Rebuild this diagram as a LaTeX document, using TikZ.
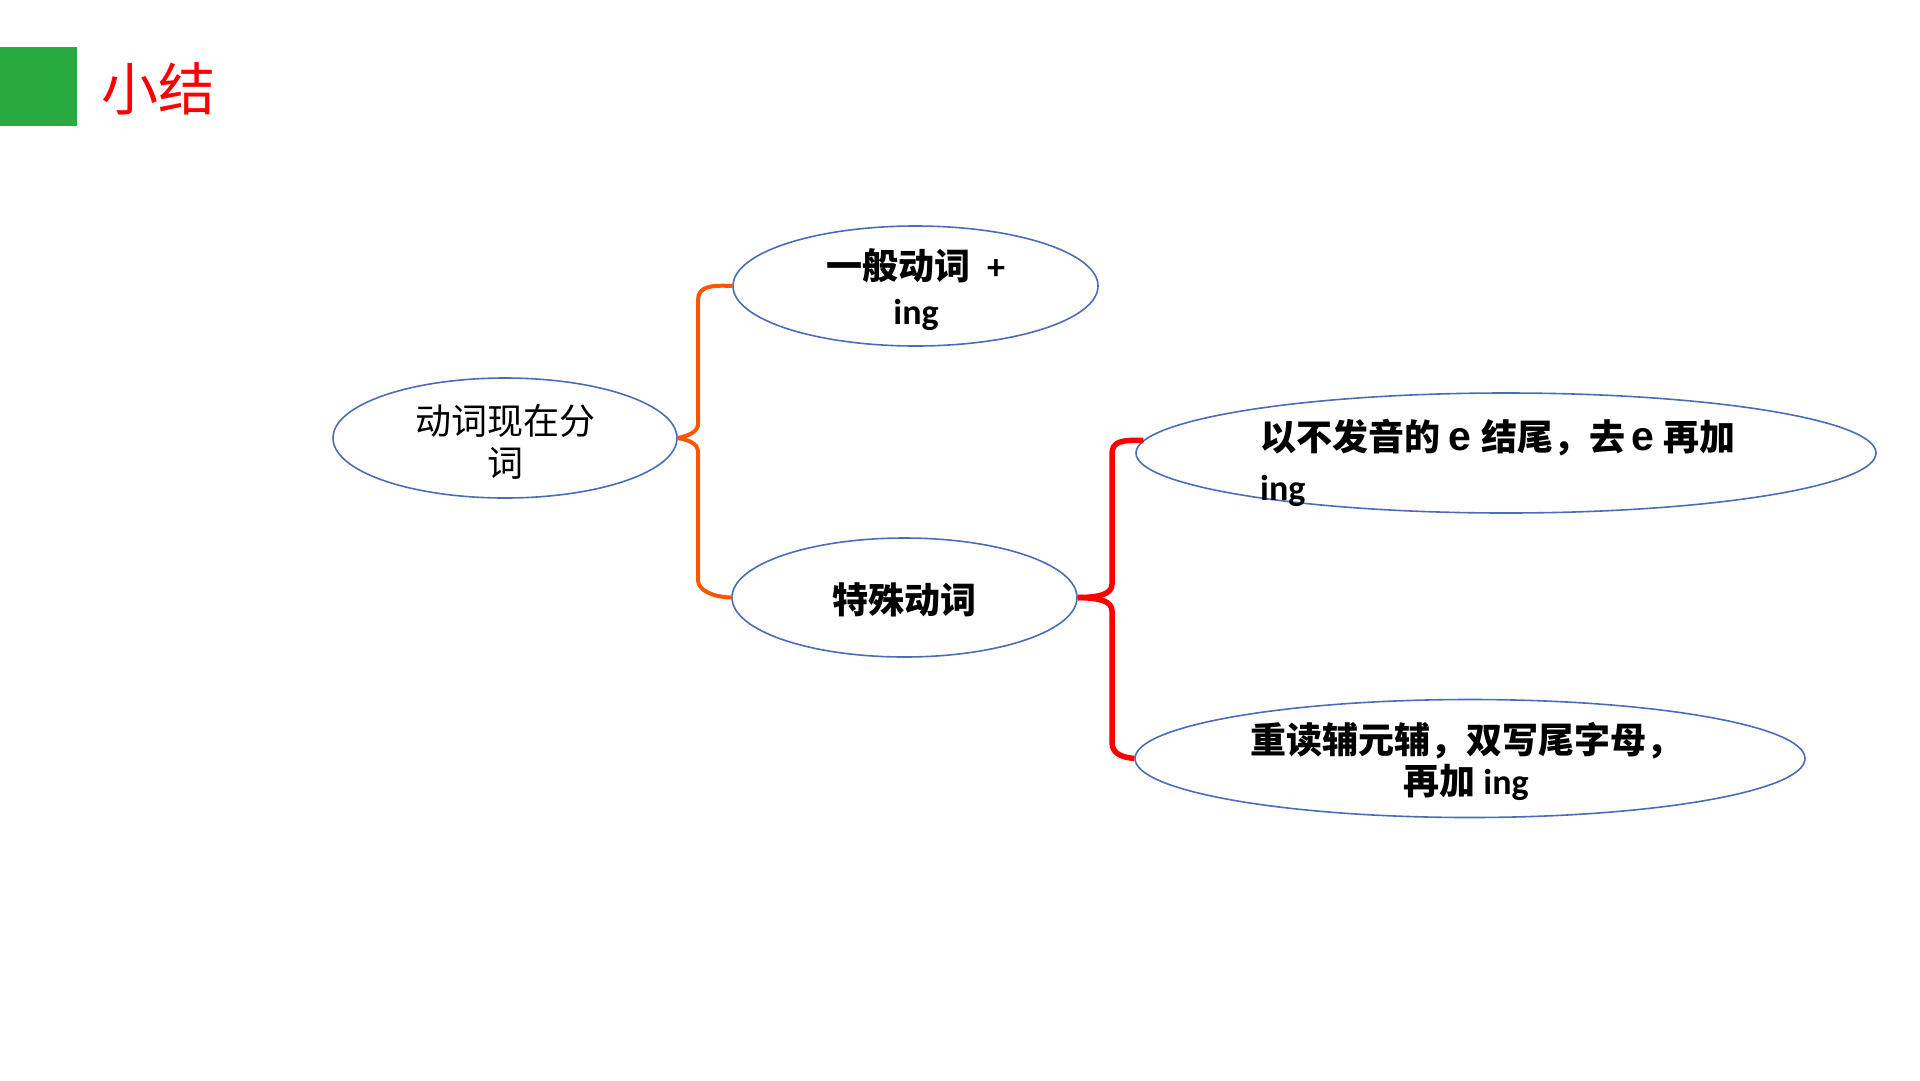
\documentclass[tikz,border=0pt]{standalone}
\usepackage{fontspec}
\setmainfont{Carlito}
\newfontfamily\zhfont{Noto Sans CJK SC}
\newfontfamily\efont{Liberation Sans}
\newcommand\zh[1]{{\zhfont #1}}
\newcommand\bige{{\efont\bfseries\fontsize{41}{50}\selectfont e}}
\usetikzlibrary{shapes.geometric}
\definecolor{ellblue}{HTML}{4A6DB8}
\definecolor{braceorange}{HTML}{FF5500}
\definecolor{bracered}{HTML}{FF0000}
\definecolor{titlegreen}{RGB}{40,170,65}
\begin{document}
\begin{tikzpicture}[x=1pt,y=-1pt,
  oval/.style={ellipse, draw=ellblue, line width=1.6pt, inner sep=0pt},
  bodytext/.style={inner sep=0pt, font=\bfseries\fontsize{36}{45}\selectfont},
  obrace/.style={draw=braceorange, line width=4pt, line join=round},
  rbrace/.style={draw=bracered, line width=5.5pt, line join=round}]
\useasboundingbox (0,0) rectangle (1920,1080);
\node[fill=titlegreen, minimum width=77pt, minimum height=79pt, inner sep=0pt, anchor=north west] (bar) at (0,47) {};
\node[anchor=west, inner sep=0pt, text=red, font=\fontsize{57}{60}\selectfont] (title) at (101,89) {\zh{小结}};

\node[oval, minimum width=344pt, minimum height=120pt] (A) at (505,438) {};
\node[oval, minimum width=365pt, minimum height=120pt] (B) at (915.5,286) {};
\node[oval, minimum width=345pt, minimum height=119pt] (C) at (904.5,597.5) {};
\node[oval, minimum width=740pt, minimum height=120pt] (D) at (1506,453) {};
\node[oval, minimum width=670pt, minimum height=118pt] (E) at (1470,758.5) {};

\node[inner sep=0pt, align=center, font=\fontsize{36}{42}\selectfont] (At) at (505,442) {\zh{动词现在分}\\\zh{词}};
\node[bodytext, align=center] (Bt) at (916,290) {\zh{一般动词}\ \ +\\ing};
\node[bodytext, align=center] (Ct) at (904.5,600) {\zh{特殊动词}};
\node[bodytext, align=left, anchor=west, font=\bfseries\fontsize{36}{50}\selectfont] (Dt) at (1260,463) {\zh{以不发音的}\hspace{8pt}\bige\hspace{10pt}\zh{结尾，去}\hspace{6pt}\bige\hspace{10pt}\zh{再加}\\ing};
\node[bodytext, align=center, font=\bfseries\fontsize{36}{41}\selectfont] (Et) at (1466,762) {\zh{重读辅元辅，双写尾字母，}\\\zh{再加}\ ing};

\draw[obrace] (B.west) .. controls (712,285) and (698,286) .. (698,300) -- (698,424) .. controls (698,432) and (688,436) .. (A.east);
\draw[obrace] (A.east) .. controls (688,440) and (698,443) .. (698,452) -- (698,580) .. controls (698,590) and (712,597) .. (C.west);

\draw[rbrace] (D.178) .. controls (1122,440) and (1112,441) .. (1112,454) -- (1112,584) .. controls (1112,594) and (1100,597.5) .. (C.east);
\draw[rbrace] (C.east) .. controls (1100,598) and (1112,601) .. (1112,611) -- (1112,742) .. controls (1112,753) and (1120,757) .. (E.west);
\end{tikzpicture}
\end{document}
